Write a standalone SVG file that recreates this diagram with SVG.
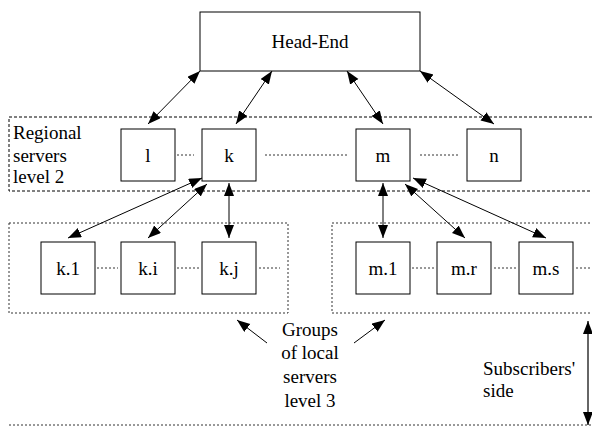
<svg xmlns="http://www.w3.org/2000/svg" width="592" height="426" viewBox="0 0 592 426">
<style>
text{font-family:"Liberation Serif","Times New Roman",serif;font-size:19px;fill:#000}
.c{text-anchor:middle}
.box{fill:#fff;stroke:#000;stroke-width:1}
.region{fill:none;stroke:#000;stroke-width:1;stroke-dasharray:3,2}
.group{fill:none;stroke:#333;stroke-width:1;stroke-dasharray:2,2}
.dot{stroke:#333;stroke-width:1;stroke-dasharray:2,2;fill:none}
.arr{stroke:#000;stroke-width:1;fill:none;marker-end:url(#ah);marker-start:url(#ah)}
.one{stroke:#000;stroke-width:1;fill:none;marker-end:url(#ah)}
</style>
<defs>
<marker id="ah" markerUnits="userSpaceOnUse" markerWidth="14" markerHeight="11" refX="13" refY="5" orient="auto-start-reverse">
<path d="M0,0 L13,5 L0,10 z" fill="#000"/>
</marker>
</defs>
<g id="regions">
<polyline class="region" points="592,117 9,117 9,191 592,191"/>
<rect class="group" x="9" y="223" width="279" height="90"/>
<rect class="group" x="332" y="223" width="270" height="90"/>
<line class="group" x1="9" y1="425" x2="592" y2="425"/>
</g>
<g id="head-end"><rect class="box" x="200" y="12" width="220" height="59"/><text class="c" x="310" y="48">Head-End</text></g>
<g id="label-regional"><text x="13" y="139">Regional</text><text x="13" y="162">servers</text><text x="13" y="183">level 2</text></g>
<g id="node-l"><rect class="box" x="121" y="129" width="54" height="52"/><text class="c" x="148" y="162">l</text></g>
<g id="node-k"><rect class="box" x="202" y="129" width="54" height="52"/><text class="c" x="229" y="162">k</text></g>
<g id="node-m"><rect class="box" x="356" y="129" width="54" height="52"/><text class="c" x="383" y="162">m</text></g>
<g id="node-n"><rect class="box" x="467" y="129" width="54" height="52"/><text class="c" x="494" y="162">n</text></g>
<g id="node-k1"><rect class="box" x="41" y="242" width="54" height="52"/><text class="c" x="68" y="275">k.1</text></g>
<g id="node-ki"><rect class="box" x="121" y="242" width="54" height="52"/><text class="c" x="148" y="275">k.i</text></g>
<g id="node-kj"><rect class="box" x="202" y="242" width="54" height="52"/><text class="c" x="229" y="275">k.j</text></g>
<g id="node-m1"><rect class="box" x="356" y="242" width="54" height="52"/><text class="c" x="383" y="275">m.1</text></g>
<g id="node-mr"><rect class="box" x="437" y="242" width="54" height="52"/><text class="c" x="464" y="275">m.r</text></g>
<g id="node-ms"><rect class="box" x="519" y="242" width="54" height="52"/><text class="c" x="546" y="275">m.s</text></g>
<g id="label-groups"><text class="c" x="310" y="336">Groups</text><text class="c" x="310" y="359">of local</text><text class="c" x="310" y="383">servers</text><text class="c" x="310" y="407">level 3</text></g>
<g id="label-subscribers"><text x="483" y="375">Subscribers'</text><text x="483" y="397">side</text></g>
<g id="connectors">
<line class="dot" x1="177" y1="155" x2="194" y2="155"/>
<line class="dot" x1="265" y1="155" x2="347" y2="155"/>
<line class="dot" x1="420" y1="155" x2="458" y2="155"/>
<line class="dot" x1="97" y1="268" x2="118" y2="268"/>
<line class="dot" x1="177" y1="268" x2="199" y2="268"/>
<line class="dot" x1="259" y1="268" x2="280" y2="268"/>
<line class="dot" x1="412" y1="268" x2="434" y2="268"/>
<line class="dot" x1="494" y1="268" x2="516" y2="268"/>
<line class="dot" x1="576" y1="268" x2="592" y2="268"/>
<line class="arr" x1="200" y1="71" x2="148" y2="124"/>
<line class="arr" x1="272" y1="71" x2="236" y2="124"/>
<line class="arr" x1="347" y1="71" x2="383" y2="124"/>
<line class="arr" x1="420" y1="71" x2="494" y2="124"/>
<line class="arr" x1="202" y1="178" x2="68" y2="238"/>
<line class="arr" x1="207" y1="184" x2="148" y2="238"/>
<line class="arr" x1="229" y1="183" x2="229" y2="238"/>
<line class="arr" x1="383" y1="183" x2="383" y2="238"/>
<line class="arr" x1="405" y1="184" x2="465" y2="238"/>
<line class="arr" x1="413" y1="178" x2="546" y2="238"/>
<line class="one" x1="267" y1="343" x2="237" y2="320"/>
<line class="one" x1="354" y1="343" x2="385" y2="320"/>
<line class="arr" style="stroke:#333;stroke-width:1.5" x1="588" y1="321" x2="588" y2="425"/>
</g>
</svg>
